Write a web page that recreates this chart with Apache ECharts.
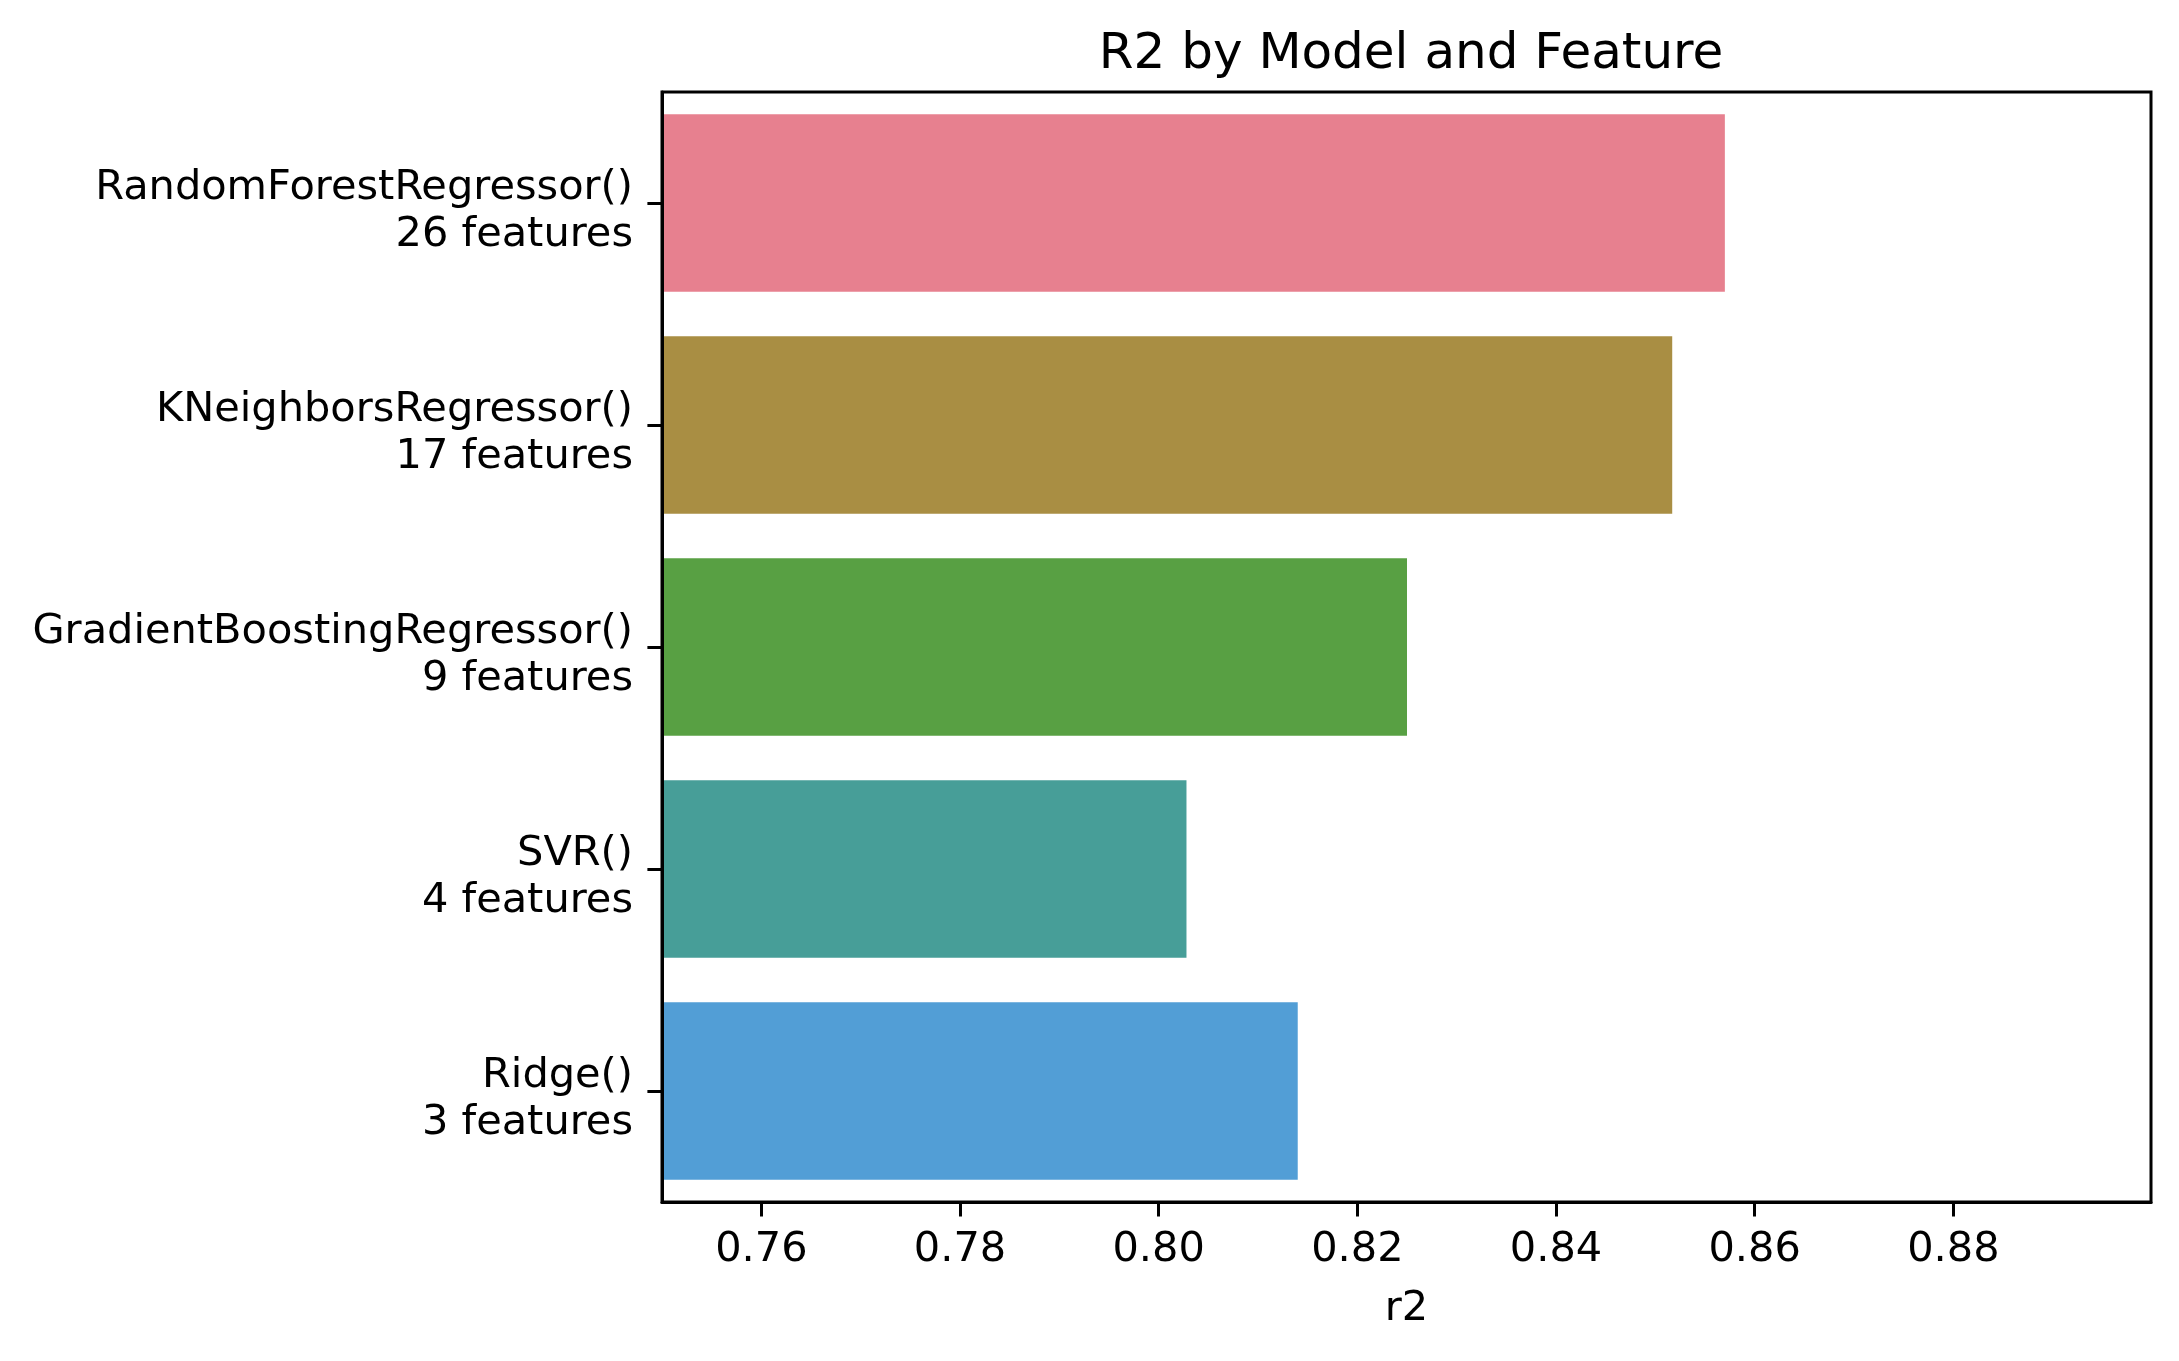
<!DOCTYPE html>
<html>
<head>
<meta charset="utf-8">
<script src="https://cdn.jsdelivr.net/npm/echarts@6/dist/echarts.min.js"></script>
<style>
html,body{margin:0;padding:0;background:#fff;}
#chart{width:2179px;height:1361px;}
</style>
</head>
<body>
<div id="chart"></div>
<script>
const models = ['RandomForestRegressor()', 'KNeighborsRegressor()', 'GradientBoostingRegressor()', 'SVR()', 'Ridge()'];
const featureCounts = ['26 features', '17 features', '9 features', '4 features', '3 features'];
const r2Values = [0.8570, 0.8517, 0.8250, 0.8028, 0.8140];
const barColors = ['#e7808f', '#a98e43', '#58a043', '#479e98', '#529ed6'];
const xTicks = [0.76, 0.78, 0.80, 0.82, 0.84, 0.86, 0.88];

const categories = models.map((m, i) => m + '\n' + featureCounts[i]);
const FONT = 'DejaVu Sans';

const chart = echarts.init(document.getElementById('chart'), null, {renderer: 'canvas'});
chart.setOption({
  backgroundColor: '#fff',
  animation: false,
  title: {
    text: 'R2 by Model and Feature',
    left: 1406,
    top: 25,
    textAlign: 'center',
    textStyle: {fontFamily: FONT, fontSize: 50, fontWeight: 'normal', color: '#000'}
  },
  grid: {
    left: 662, right: 28, top: 92, bottom: 159,
    show: true, borderColor: '#000', borderWidth: 3, backgroundColor: 'transparent'
  },
  xAxis: {
    type: 'value',
    min: 0.75,
    max: 0.8999,
    z: 10,
    name: 'r2',
    nameLocation: 'middle',
    nameGap: 86,
    nameTextStyle: {fontFamily: FONT, fontSize: 41.5, color: '#000'},
    axisLine: {show: true, lineStyle: {color: '#000', width: 3}},
    axisTick: {show: true, customValues: xTicks, length: 14.6, lineStyle: {color: '#000', width: 3}},
    axisLabel: {
      customValues: xTicks,
      margin: 27,
      fontFamily: FONT, fontSize: 41.5, color: '#000',
      formatter: v => v.toFixed(2)
    },
    splitLine: {show: false}
  },
  yAxis: {
    type: 'category',
    data: categories,
    inverse: true,
    z: 10,
    axisLine: {show: true, lineStyle: {color: '#000', width: 3}},
    axisTick: {show: true, alignWithLabel: true, length: 14.6, lineStyle: {color: '#000', width: 3}},
    axisLabel: {
      margin: 29,
      align: 'right',
      formatter: v => {
        const parts = v.split('\n');
        return '{p| }\n{a|' + parts[0] + '}\n{a|' + parts[1] + '}';
      },
      rich: {
        p: {fontSize: 1, lineHeight: 17, color: 'rgba(0,0,0,0)', align: 'right'},
        a: {fontFamily: FONT, fontSize: 41.5, color: '#000', lineHeight: 47, align: 'right'}
      }
    },
    splitLine: {show: false}
  },
  series: [{
    type: 'bar',
    barCategoryGap: '20%',
    data: r2Values.map((v, i) => ({value: v, itemStyle: {color: barColors[i]}})),
    emphasis: {disabled: true}
  }]
});
</script>
</body>
</html>
